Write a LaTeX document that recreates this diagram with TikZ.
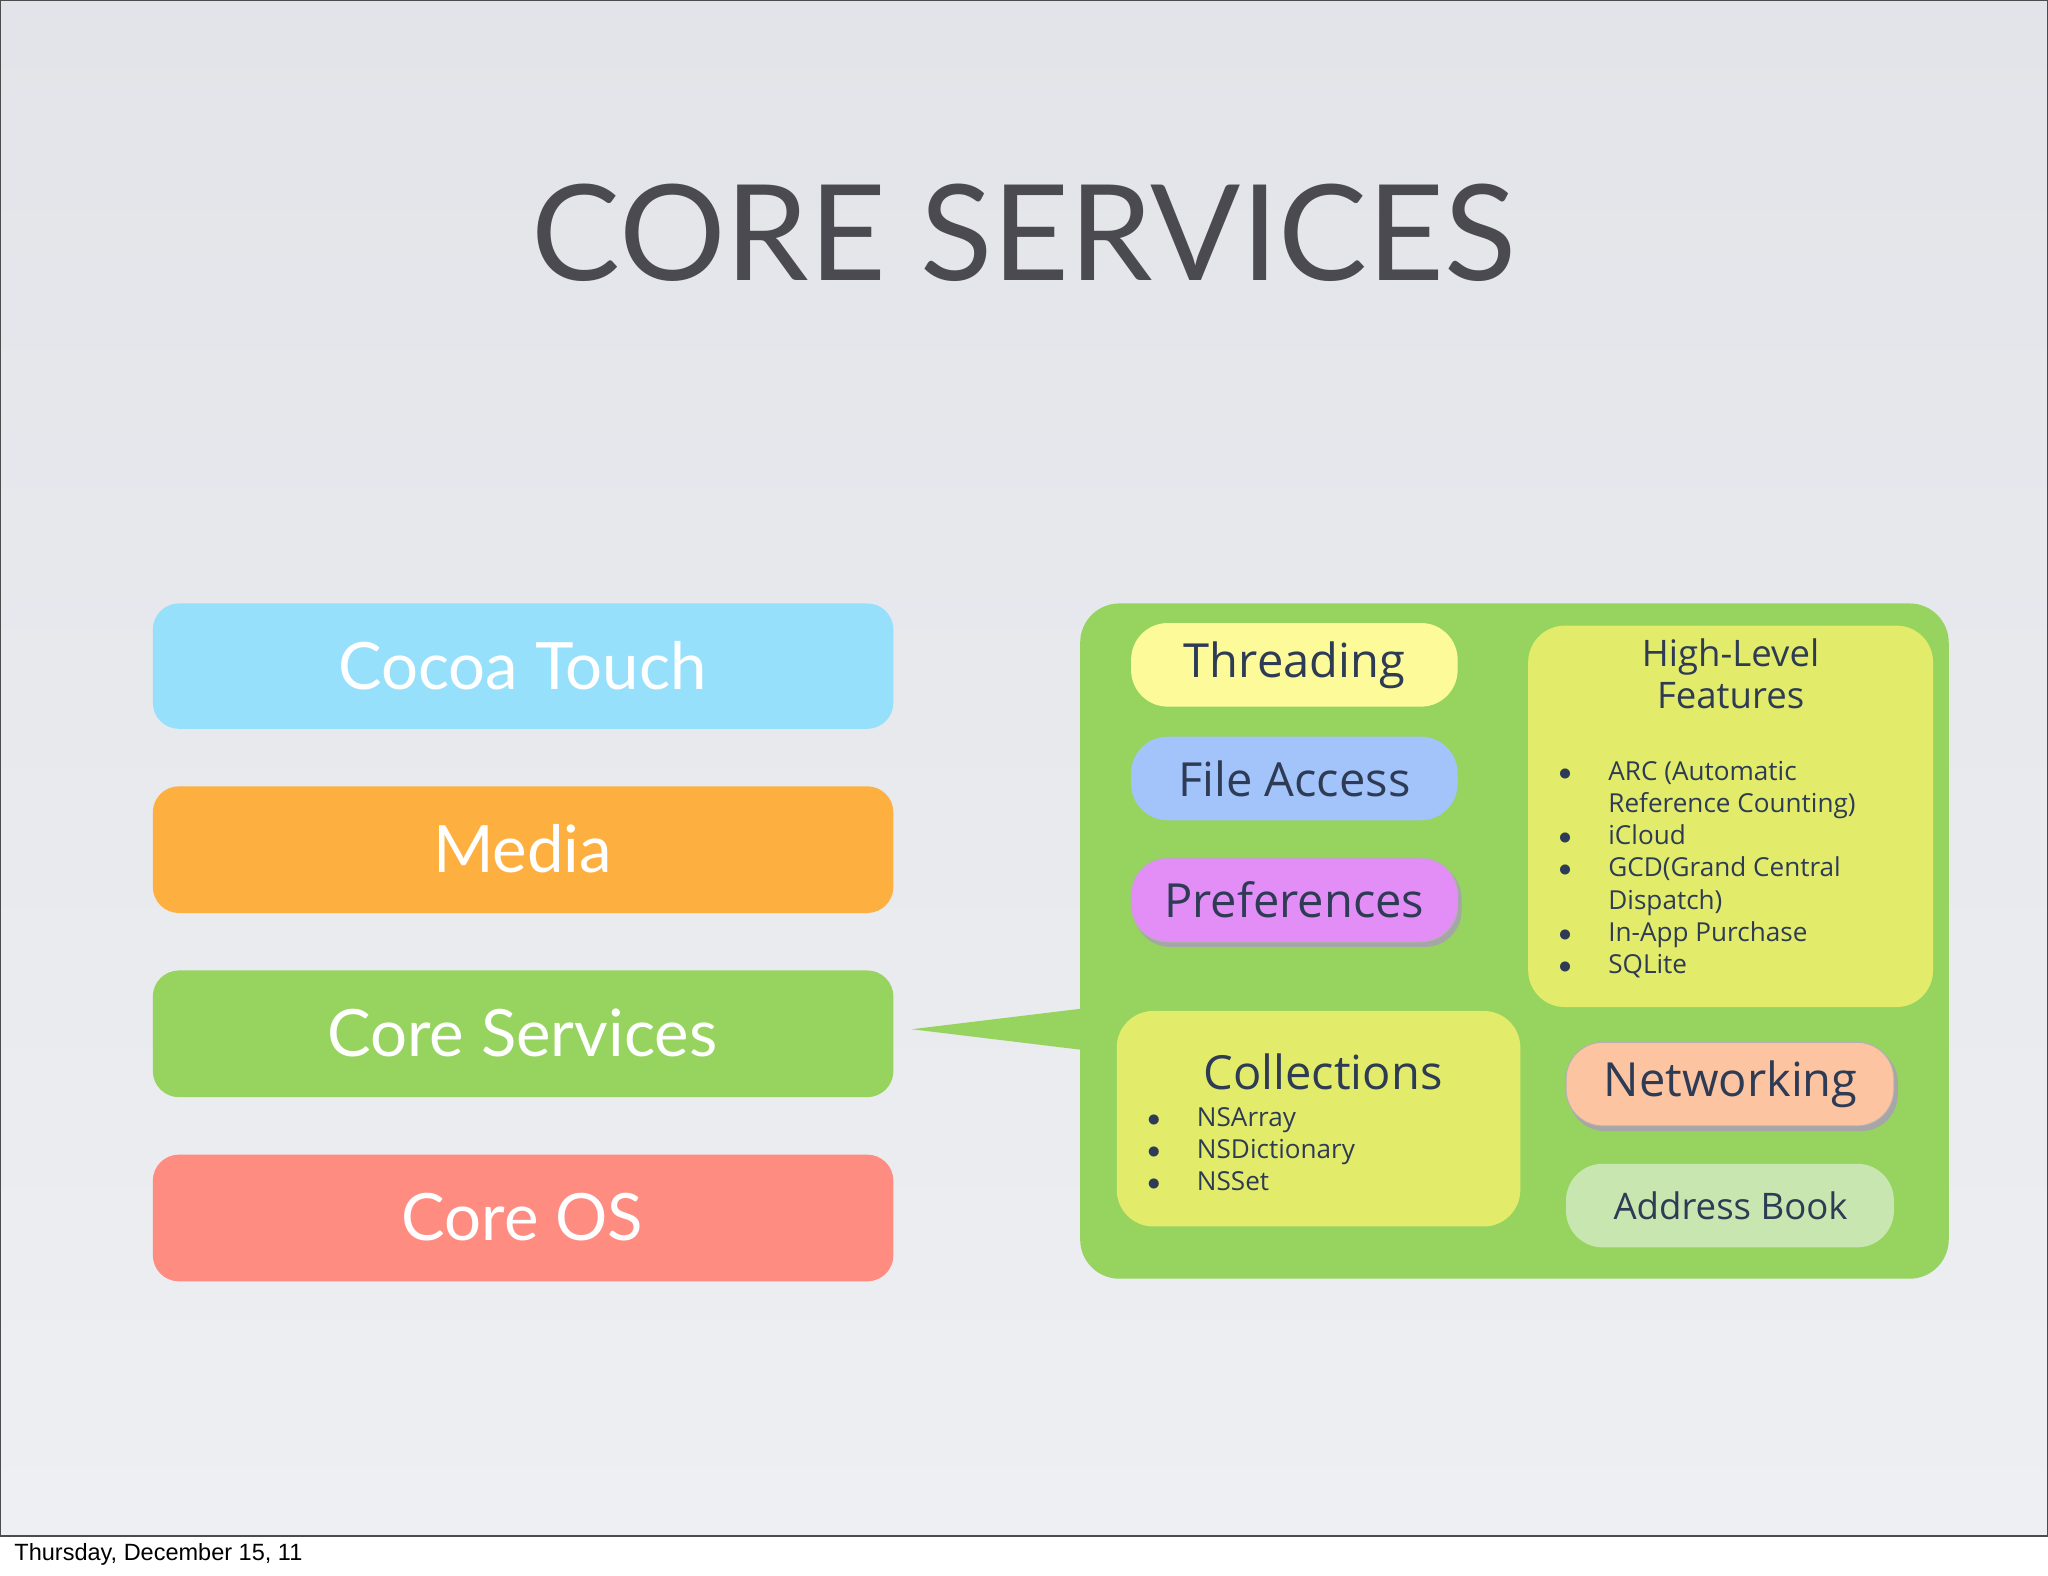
\documentclass[tikz,border=0pt]{standalone}
\usepackage{fontspec}
\setmainfont{Open Sans}
\newfontfamily\titlefont{Lato}
\newfontfamily\footfont{Liberation Sans}
\definecolor{bgA}{HTML}{E2E4E9}
\definecolor{bgB}{HTML}{EEEFF2}
\definecolor{ink}{HTML}{2E3B55}
\definecolor{titleink}{HTML}{4A4A50}
\definecolor{cyanbox}{HTML}{96E0FB}
\definecolor{orangebox}{HTML}{FDB040}
\definecolor{greenbox}{HTML}{96D35F}
\definecolor{redbox}{HTML}{FE8C80}
\definecolor{yelbox}{HTML}{FDFA9A}
\definecolor{bluebox}{HTML}{A3C4FB}
\definecolor{pinkbox}{HTML}{E38EF6}
\definecolor{limebox}{HTML}{E3EC6A}
\definecolor{peachbox}{HTML}{FDC4A1}
\definecolor{palegreen}{HTML}{C8E6B0}
\tikzset{
 layer/.style={rounded corners=10pt,text=white,font=\titlefont\fontsize{25}{30}\selectfont},
 inner/.style={rounded corners=9pt,text=ink,font=\fontsize{18}{22}\selectfont},
 lst/.style={text=ink,font=\fontsize{10}{12.3}\selectfont,align=left,anchor=north west,inner sep=0pt}
}
\begin{document}
\begin{tikzpicture}[x=0.5pt,y=-0.5pt]
\useasboundingbox (0,0) rectangle (1568,1206);
\fill[white] (0,0) rectangle (1568,1206);
\shade[top color=bgA,bottom color=bgB] (0,0) rectangle (1568,1176);
\draw[black!70,line width=0.6pt] (0,0) rectangle (1568,1176);
\node[anchor=west,font=\footfont\fontsize{9}{10}\selectfont] (foot) at (4,1190) {Thursday, December 15, 11};
\node[text=titleink,font=\titlefont\fontsize{51}{56}\selectfont] (title) at (784,178) {CORE SERVICES};
% left layers
\fill[cyanbox,layer] (117,462) rectangle (684,558);
\node[layer] (cocoa) at (400,510) {Cocoa Touch};
\fill[orangebox,layer] (117,602) rectangle (684,699);
\node[layer] (media) at (400,650) {Media};
\fill[greenbox,layer] (117,743) rectangle (684,840);
\node[layer] (cs) at (400,791) {Core Services};
\fill[redbox,layer] (117,884) rectangle (684,981);
\node[layer] (os) at (400,932) {Core OS};
% callout
\fill[greenbox,rounded corners=15pt] (827,462) rectangle (1492,979);
\coordinate (tip) at (698,788);
\fill[greenbox] (tip) -- (830,772) -- (830,804) -- cycle;
% inner boxes
\fill[yelbox,rounded corners=14pt] (866,477) rectangle (1116,541);
\node[inner] (thr) at (991,509) {Threading};
\fill[bluebox,rounded corners=14pt] (866,564) rectangle (1116,628);
\node[inner] (fa) at (991,596) {File Access};
\fill[black!35,rounded corners=14pt] (868,660) rectangle (1119,725);
\fill[pinkbox,rounded corners=14pt,draw=black!30] (866,657) rectangle (1116,721);
\node[inner] (pref) at (991,689) {Preferences};
\fill[limebox,rounded corners=14pt] (1170,479) rectangle (1480,771);
\node[inner,align=center,font=\fontsize{14}{16}\selectfont] (hl) at (1325,516) {High-Level\\Features};
\node[lst] (hll) at (1193,580) {\begin{tabular}{@{}l@{\hspace{14pt}}l@{}}
$\bullet$ & ARC (Automatic\\ & Reference Counting)\\
$\bullet$ & iCloud\\
$\bullet$ & GCD(Grand Central\\ & Dispatch)\\
$\bullet$ & In-App Purchase\\
$\bullet$ & SQLite\end{tabular}};
\fill[limebox,rounded corners=14pt] (855,774) rectangle (1164,939);
\node[inner] (col) at (1013,821) {Collections};
\node[lst] (coll) at (878,845) {\begin{tabular}{@{}l@{\hspace{14pt}}l@{}}
$\bullet$ & NSArray\\ $\bullet$ & NSDictionary\\ $\bullet$ & NSSet\end{tabular}};
\fill[black!35,rounded corners=14pt] (1201,801) rectangle (1453,866);
\fill[peachbox,rounded corners=14pt,draw=black!30] (1199,798) rectangle (1450,862);
\node[inner] (net) at (1325,830) {Networking};
\fill[palegreen,rounded corners=14pt] (1199,891) rectangle (1450,955);
\node[inner,font=\fontsize{14}{16}\selectfont] (ab) at (1325,923) {Address Book};
\end{tikzpicture}
\end{document}
